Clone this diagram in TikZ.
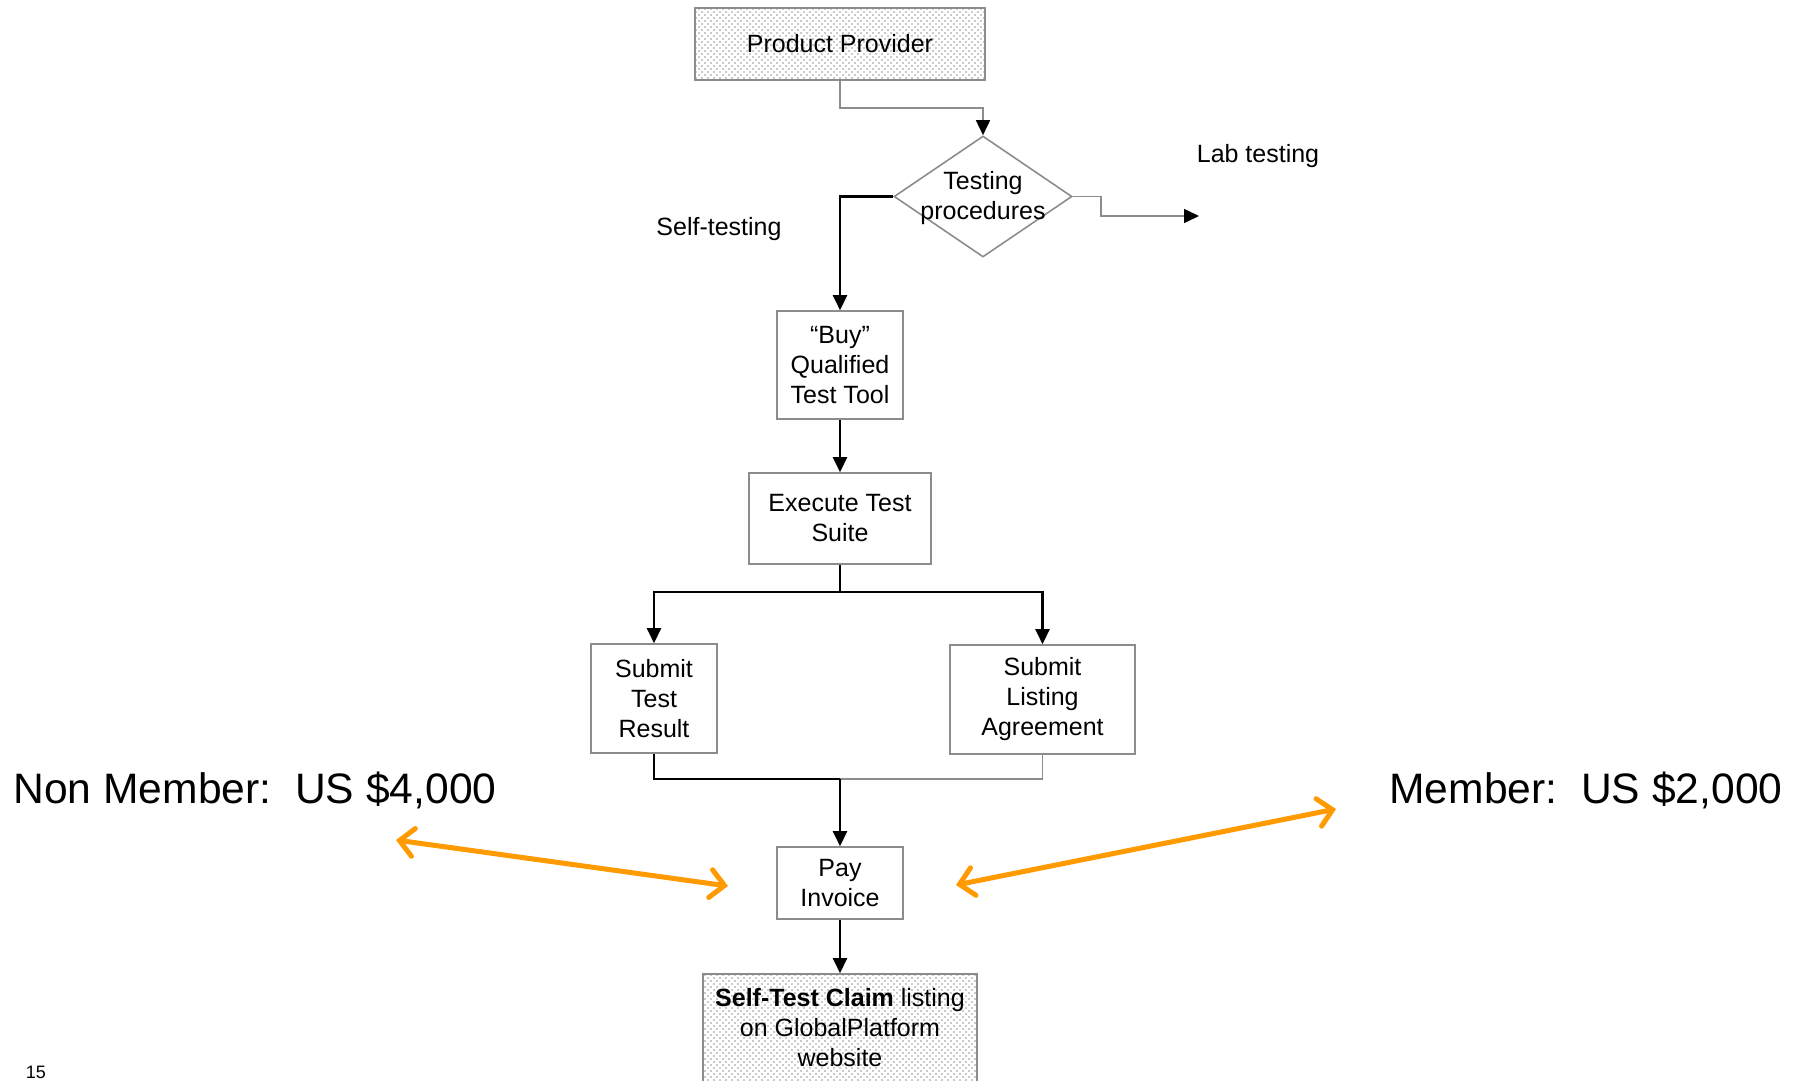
\documentclass[tikz,border=0pt]{standalone}
\usepackage{fontspec}
\setmainfont{Liberation Sans}
\usetikzlibrary{arrows.meta,shapes.geometric,patterns}
\pgfdeclarepatternformonly{mydots}{\pgfqpoint{-1pt}{-1pt}}{\pgfqpoint{5pt}{5pt}}{\pgfqpoint{6pt}{6pt}}{%
  \pgfpathcircle{\pgfqpoint{0pt}{0pt}}{0.9pt}%
  \pgfpathcircle{\pgfqpoint{3pt}{3pt}}{0.9pt}%
  \pgfusepath{fill}}
\definecolor{boxgray}{HTML}{8C8C8C}
\definecolor{arrorange}{HTML}{FF9A00}
\tikzset{
  boxtext/.style={font=\fontsize{25}{30}\selectfont},
  stepbox/.style={draw=boxgray, line width=1.6pt, align=center, inner sep=0pt, boxtext},
  dotbox/.style={stepbox, pattern=mydots, pattern color=gray!85},
  blk/.style={draw=black, line width=2.4pt, -{Triangle[length=15pt,width=14pt]}},
  blkline/.style={draw=black, line width=2.4pt},
  gry/.style={draw=boxgray, line width=1.6pt, -{Triangle[length=15pt,width=14pt,black]}},
  gryline/.style={draw=boxgray, line width=1.6pt},
  price/.style={font=\fontsize{42.6}{50}\selectfont},
  lbl/.style={font=\fontsize{25}{30}\selectfont},
  orarrow/.style={draw=arrorange, line width=5pt, line cap=round,
    {Straight Barb[length=14pt,width=28pt,line cap=round]}-{Straight Barb[length=14pt,width=28pt,line cap=round]}}
}
\begin{document}
\begin{tikzpicture}[x=1pt,y=-1pt]
\path[use as bounding box] (0,0) rectangle (1802,1080);
\clip (0,0) rectangle (1802,1080);

% nodes
\node[dotbox, minimum width=290pt, minimum height=72pt] (pp) at (840,44) {Product Provider};
\node[diamond, draw=boxgray, line width=1.6pt, minimum width=178pt, minimum height=121pt, inner sep=0pt] (tp) at (983,196.5) {};
\node[boxtext, align=center] (tptext) at (983,198) {Testing\\procedures};
\node[stepbox, minimum width=126pt, minimum height=108pt] (buy) at (840,365) {“Buy”\\Qualified\\Test Tool};
\node[stepbox, minimum width=182pt, minimum height=91pt] (exe) at (840,518.5) {Execute Test\\Suite};
\node[stepbox, minimum width=126pt, minimum height=109pt] (str) at (654,698.5) {Submit\\Test\\Result};
\node[stepbox, minimum width=185pt, minimum height=109pt] (sla) at (1042.5,699.5) {Submit\\Listing\\Agreement};
\node[stepbox, minimum width=126pt, minimum height=72pt] (pay) at (840,883) {Pay\\Invoice};
\node[dotbox, minimum width=274pt, minimum height=108pt] (stc) at (840,1028) {\textbf{Self-Test Claim} listing\\on GlobalPlatform\\website};

% labels
\node[lbl] (lab) at (1258,156) {Lab testing};
\node[lbl] (self) at (719,229) {Self-testing};
\node[price, anchor=west] (nonm) at (10,790) {Non Member:\ \ US \$4,000};
\node[price, anchor=east] (mem) at (1786,790) {Member:\ \ US \$2,000};
\node[font=\fontsize{18}{20}\selectfont] (pg) at (36,1072) {15};

% connectors
\draw[gry] (pp.south) -- ++(0,27) -| (tp.north);
\coordinate (labend) at (1199,216);
\draw[gry] (tp.east) -- ++(28,0) |- (labend);
\draw[blk] (tp.west) -| (buy.north);
\draw[blk] (buy.south) -- (exe.north);
\coordinate (split) at (840,592);
\draw[blkline] (exe.south) -- (split);
\draw[blk] (split) -| (str.north);
\draw[blk] (split) -| (sla.north);
\coordinate (merge) at (840,779);
\draw[gryline] (sla.south) |- (merge);
\draw[blkline] (str.south) |- (merge);
\draw[blk] (merge) -- (pay.north);
\draw[blk] (pay.south) -- (stc.north);

% orange arrows
\coordinate (oal) at (396,840);
\coordinate (oar) at (728,886);
\coordinate (obl) at (956,885);
\coordinate (obr) at (1336,809);
\draw[orarrow] (oal) -- (oar);
\draw[orarrow] (obl) -- (obr);
\end{tikzpicture}
\end{document}
